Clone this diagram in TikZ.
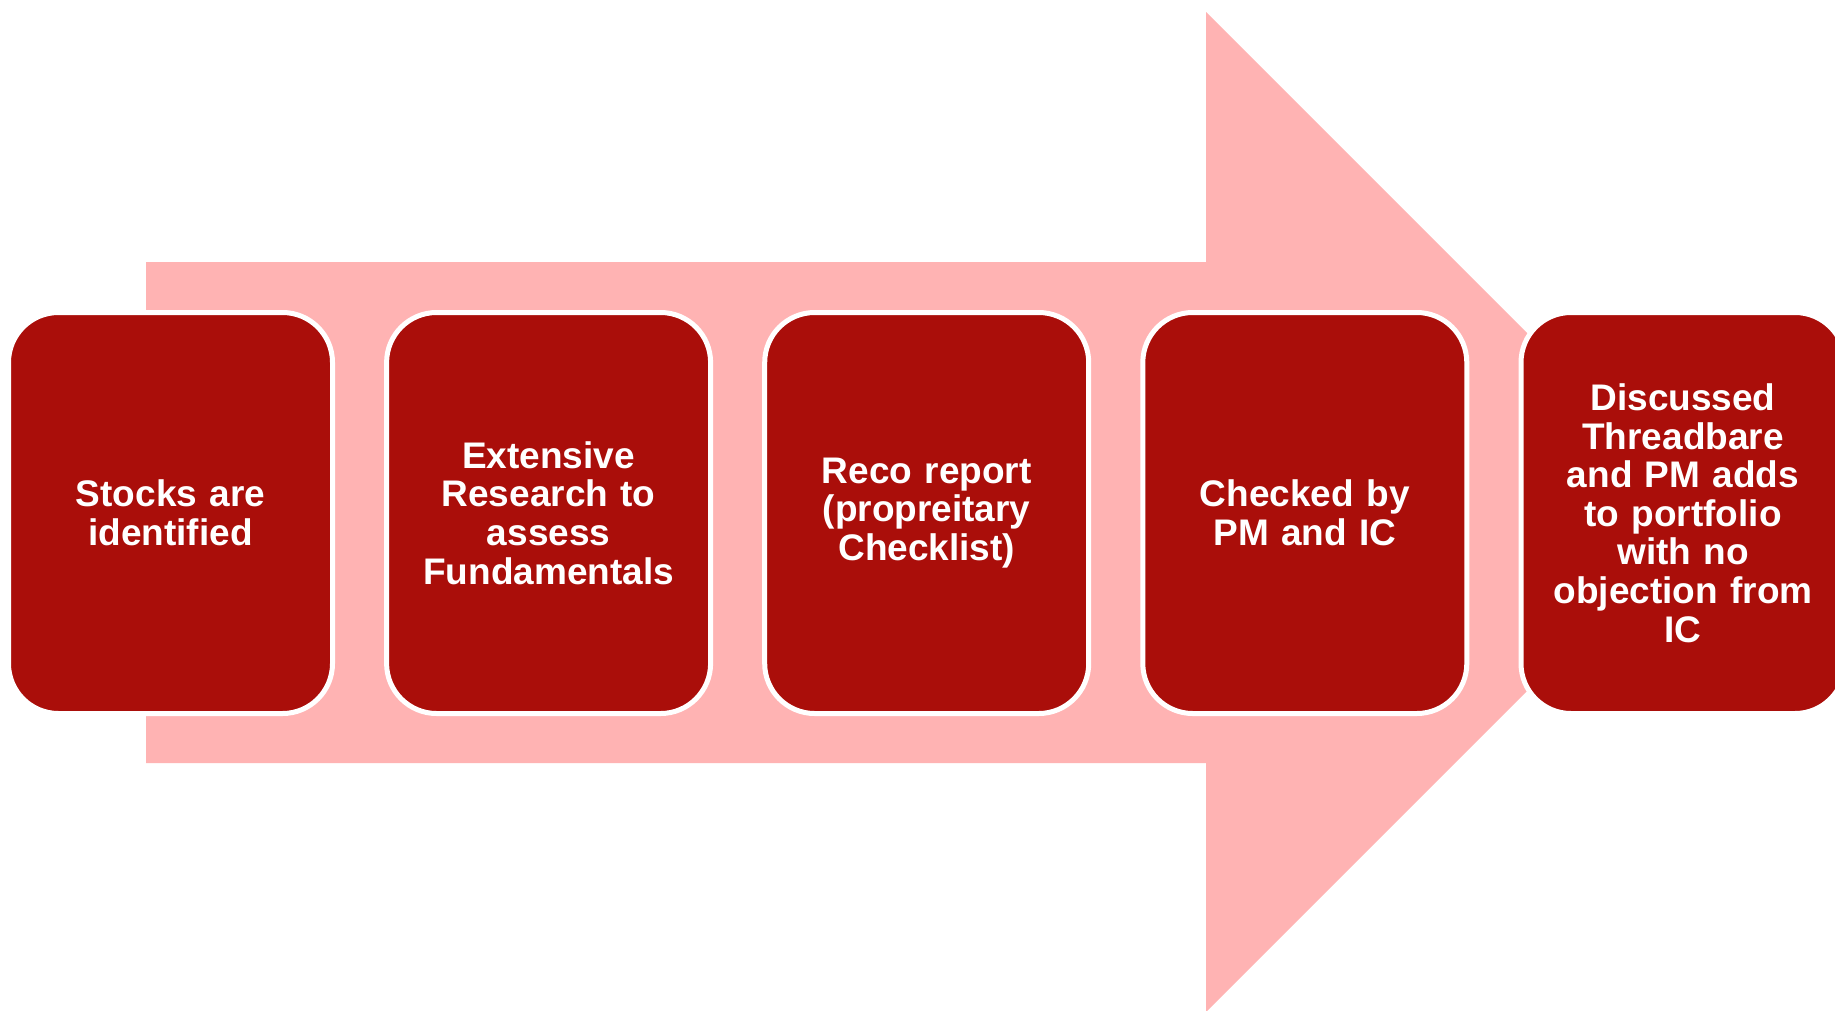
\documentclass[tikz,border=0pt]{standalone}
\usepackage{fontspec}
\setmainfont{Liberation Sans}
\definecolor{boxred}{RGB}{170,14,10}
\definecolor{arrowpink}{RGB}{255,179,179}
\begin{document}
\begin{tikzpicture}[x=1pt,y=-1pt,
  stepbox/.style={draw=white, line width=5pt, fill=boxred, rounded corners=50pt,
    minimum width=324pt, minimum height=401pt, text width=300pt, align=center,
    text=white, inner sep=0pt,
    font=\fontsize{37}{38.6}\selectfont\bfseries}]
\useasboundingbox (0,0) rectangle (1835,1010);
\clip (0,0) rectangle (1835,1010);
\fill[arrowpink] (146,262) -- (1206,262) -- (1206,12) -- (1706,512) -- (1206,1012) -- (1206,763) -- (146,763) -- cycle;
\node[stepbox] (b1) at (170.5,513) {Stocks are\\identified};
\node[stepbox] (b2) at (548.6,513) {Extensive\\Research to\\assess\\Fundamentals};
\node[stepbox] (b3) at (926.7,513) {Reco report\\(propreitary\\Checklist)};
\node[stepbox] (b4) at (1304.8,513) {Checked by\\PM and IC};
\node[stepbox] (b5) at (1683,513) {Discussed\\Threadbare\\and PM adds\\to portfolio\\with no\\objection from\\IC};
\end{tikzpicture}
\end{document}
